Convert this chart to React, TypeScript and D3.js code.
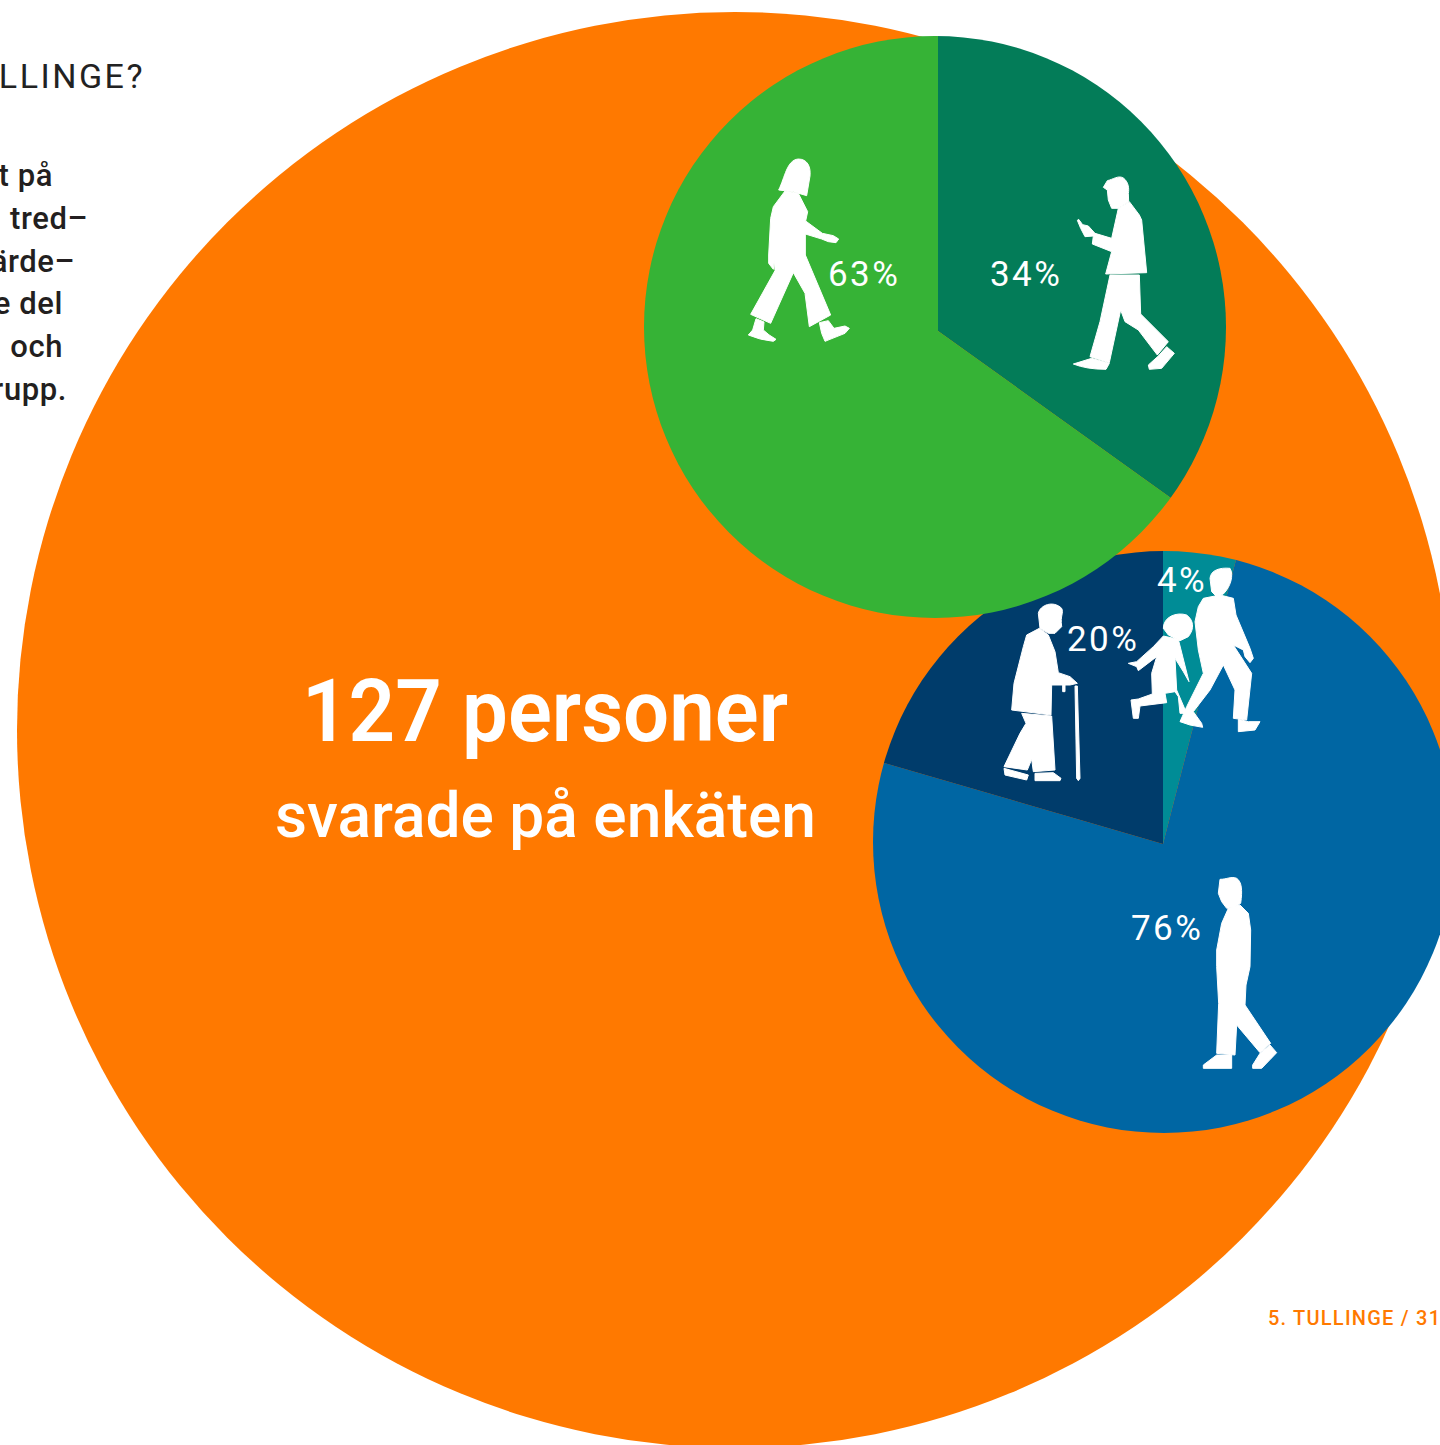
import React from 'react';
import { arc, pie } from 'd3';

const totalRespondents = 127;

const genderNames = ['Män', 'Kvinnor'];
const genderShares = [34.9, 65.1];
const genderColors = ['#037c58', '#36b336'];

const ageNames = ['Barn', 'Vuxna', 'Äldre'];
const ageShares = [4, 75.5, 20.5];
const ageColors = ['#008c96', '#0066a3', '#003c6b'];

const FONT = 'Roboto, sans-serif';
const ORANGE = '#ff7900';

const bodyLines = ['t på', 'tred–', 'ärde–', 'e del', 'och', 'rupp.'];
const bodyRight = [53, 88, 75, 63, 63, 67];

// silhouettes, traced at 3x from the picture
const womanPaths = [
  'M146,150 C165,112 170,60 205,57 C232,57 243,80 240,108 L230,167 L190,155 Z',
  'M165,153 L205,160 L233,215 L227,243 L277,280 L310,287 L326,297 L318,308 L295,305 L275,297 L226,282 L226,345 L302,525 L238,560 L225,460 L190,398 L122,550 L62,523 L135,392 L133,360 L130,388 L116,370 L116,345 L122,235 L130,200 Z',
  'M268,548 L295,542 L312,565 L345,558 L358,565 L345,580 L285,604 L275,580 Z',
  'M78,536 L102,546 L100,570 Q115,585 138,598 L130,604 Q90,600 55,585 L68,570 Z',
];
const phoneManPaths = [
  'M1120,142 L1132,122 C1150,118 1165,105 1180,114 C1195,125 1198,145 1195,160 L1196,185 L1165,205 L1145,205 L1135,180 L1132,150 Z',
  'M1165,205 L1198,185 L1228,225 L1235,240 L1250,398 L1127,402 L1145,335 L1087,312 L1090,288 L1065,290 L1052,265 L1042,241 L1046,238 L1058,254 L1075,258 L1095,280 L1145,295 Z',
  'M1140,405 L1228,405 L1232,522 L1315,605 L1282,645 L1225,570 L1185,545 L1172,510 L1138,668 L1080,650 L1110,545 Z',
  'M1085,655 L1138,670 L1128,688 Q1070,688 1030,672 Z',
  'M1285,648 L1310,620 L1333,640 L1295,685 L1258,688 L1255,675 Z',
];
const oldManPaths = [
  'M145,190 C150,165 190,150 215,175 C222,190 210,195 215,230 L195,250 L175,250 L150,235 Z',
  'M148,235 L175,255 L195,305 L205,368 L240,380 L262,400 L240,405 L225,405 L225,425 L218,425 L218,405 L185,405 L183,495 L65,480 L72,400 L100,290 L110,255 Z',
  'M95,490 L185,498 L195,660 L130,665 L125,628 L112,660 L42,650 L90,550 L108,520 Z',
  'M42,655 L115,675 L110,690 L45,675 Z',
  'M135,670 L190,668 L213,685 L210,692 L135,692 Z',
  'M255,408 L262,408 L270,685 L265,692 L260,685 Z',
];
const childPaths = [
  'M520,235 C520,200 560,185 590,195 C610,210 615,235 595,260 L570,272 L535,255 Z',
  'M520,258 L565,268 L597,395 L580,365 L555,325 L560,420 L590,490 L570,490 L565,440 L555,425 L525,430 L530,458 L450,468 L445,505 L430,505 L423,450 L445,447 L487,432 L485,370 L500,320 L445,362 L440,350 L415,340 L440,335 L490,290 Z',
];
const adultPaths = [
  'M660,85 C662,60 690,52 720,55 C732,75 722,110 700,132 L680,140 L665,125 Z',
  'M640,145 L690,135 L730,145 L738,195 L780,295 L790,325 L780,338 L765,320 L760,300 L730,285 L785,370 L770,510 L730,505 L735,420 L700,345 L660,420 L610,485 L635,520 L638,532 L600,525 L570,515 L590,470 L640,370 L625,300 L615,215 L625,170 Z',
  'M745,508 L775,515 L810,515 L795,540 L745,545 Z',
];
const walkerPaths = [
  'M300,28 C320,28 335,18 350,25 C365,35 368,60 362,100 L345,112 L320,115 L305,95 L295,70 Z',
  'M325,115 L360,105 L385,130 L392,180 L390,290 L378,345 L375,405 L452,520 L420,548 L350,465 L345,555 L290,550 L296,400 L290,290 L290,240 L305,160 Z',
  'M290,555 L335,555 L335,595 L250,595 L250,585 Z',
  'M420,550 L450,525 L470,548 L425,595 L398,595 L398,585 Z',
];

function Silhouette({ paths, x, y }: { paths: string[]; x: number; y: number }) {
  return (
    <g transform={`translate(${x},${y}) scale(${1 / 3})`} fill="#fff" stroke="#fff" strokeWidth={3} strokeLinejoin="round">
      {paths.map((d, i) => <path key={i} d={d} />)}
    </g>
  );
}

// wedges start at the apex, the disc itself is a clip: the apex sits a bit off centre in the original
function Pie({ id, cx, cy, r, ax, ay, shares, colors }: any) {
  const slices = pie<number>().sort(null)(shares);
  const wedge = arc<any>().innerRadius(0).outerRadius(r + 30);
  return (
    <g>
      <clipPath id={id}><circle cx={cx} cy={cy} r={r} /></clipPath>
      <g clipPath={`url(#${id})`}>
        <g transform={`translate(${ax},${ay})`}>
          {slices.map((s, i) => <path key={i} d={wedge(s) as string} fill={colors[i]} />)}
        </g>
      </g>
    </g>
  );
}

function Pct({ x, y, children }: any) {
  return (
    <text x={x} y={y} fill="#fff" fontSize={35} fontWeight={400} letterSpacing={2.4} fontFamily={FONT}>
      {children}
    </text>
  );
}

export default function App() {
  return (
    <svg width={1440} height={1445} style={{ position: 'absolute', left: 0, top: 0, display: 'block' }}>
      <rect width={1440} height={1445} fill="#fff" />
      <circle cx={735} cy={730} r={718} fill={ORANGE} />

      <text x={145} y={88} textAnchor="end" fontSize={34} fontWeight={400} letterSpacing={2.5} fill="#222" fontFamily={FONT}>TULLINGE?</text>
      {bodyLines.map((t, i) => (
        <text key={t} x={bodyRight[i]} y={186 + i * 42.8} textAnchor="end" fontSize={31} fontWeight={500} letterSpacing={0.6} fill="#231f20" fontFamily={FONT}>{t}</text>
      ))}

      <Pie id="age" cx={1164} cy={842} r={291} ax={1163} ay={844} shares={ageShares} colors={ageColors} />
      <Pie id="gender" cx={935} cy={327} r={291} ax={938} ay={331} shares={genderShares} colors={genderColors} />

      <text x={302} y={741} fontSize={87} fontWeight={600} textLength={486} lengthAdjust="spacingAndGlyphs" fill="#fff" fontFamily={FONT}>{totalRespondents} personer</text>
      <text x={275} y={837} fontSize={63} fontWeight={500} textLength={541} lengthAdjust="spacingAndGlyphs" fill="#fff" fontFamily={FONT}>svarade på enkäten</text>

      <Silhouette paths={womanPaths} x={730} y={140} />
      <Silhouette paths={phoneManPaths} x={730} y={140} />
      <Silhouette paths={oldManPaths} x={990} y={550} />
      <Silhouette paths={adultPaths} x={990} y={550} />
      <Silhouette paths={childPaths} x={990} y={550} />
      <Silhouette paths={walkerPaths} x={1120} y={870} />

      <Pct x={828} y={286}>63%</Pct>
      <Pct x={990} y={286}>34%</Pct>
      <Pct x={1157} y={592}>4%</Pct>
      <Pct x={1067} y={651}>20%</Pct>
      <Pct x={1131} y={940}>76%</Pct>

      <text x={1268} y={1325} fontSize={20} fontWeight={500} textLength={172} fill={ORANGE} fontFamily={FONT}>5. TULLINGE / 31</text>
    </svg>
  );
}
